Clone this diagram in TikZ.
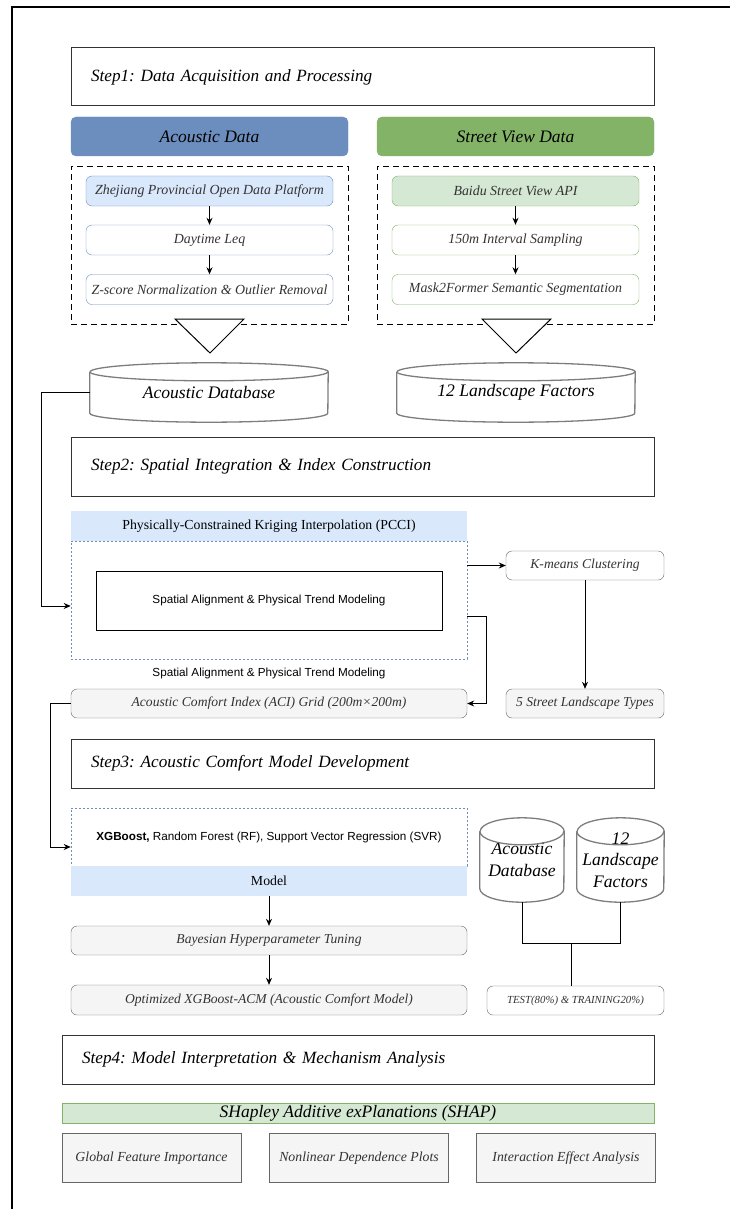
\documentclass[tikz,border=0pt]{standalone}
\usepackage{fontspec}
\setmainfont{Liberation Serif}
\setsansfont{Liberation Sans}
\usetikzlibrary{arrows.meta,calc}
\definecolor{acblue}{HTML}{6C8EBF}
\definecolor{acbluelt}{HTML}{DAE8FC}
\definecolor{svgreen}{HTML}{82B366}
\definecolor{svgreenlt}{HTML}{D5E8D4}
\definecolor{boxgray}{HTML}{F5F5F5}
\definecolor{linegray}{HTML}{666666}
\definecolor{txtgray}{HTML}{333333}
% outline of a database drum round node #1, half width #2, ellipse radius #3
\newcommand{\drumline}[3]{%
  \draw[drum] ([yshift=-#3pt]#1.north west) -- ([yshift=#3pt]#1.south west)
      arc[start angle=180,end angle=360,x radius=#2,y radius=#3]
      -- ([yshift=-#3pt]#1.north east)
      arc[start angle=0,end angle=180,x radius=#2,y radius=#3];
  \draw[drum] ([yshift=-#3pt]#1.north west)
      arc[start angle=180,end angle=360,x radius=#2,y radius=#3];
}
\frenchspacing
\begin{document}
\begin{tikzpicture}[x=1pt,y=1pt,
    stepbox/.style={draw=txtgray,line width=1pt,inner xsep=20pt,text width=543pt,align=left,
        font=\fontsize{17.2}{20}\selectfont\itshape},
    header/.style={rounded corners=5pt,minimum width=277pt,minimum height=39pt,
        font=\fontsize{17.5}{20}\selectfont\itshape},
    group/.style={draw,line width=0.9pt,dash pattern=on 6pt off 4pt,minimum width=277pt,minimum height=158pt},
    item/.style={draw,rounded corners=6pt,minimum width=247pt,minimum height=30pt,text=txtgray,
        font=\fontsize{13.9}{16}\selectfont\itshape},
    dbnode/.style={inner sep=0pt,align=center,font=\fontsize{17.6}{21.5}\selectfont\itshape},
    drum/.style={draw=linegray!85,line width=1.3pt},
    bluebar/.style={fill=acbluelt,minimum width=396pt,minimum height=30pt,font=\fontsize{13.8}{16}\selectfont},
    dotbox/.style={draw=acblue,dash pattern=on 2pt off 2pt,line width=0.6pt,minimum width=396pt},
    greybox/.style={draw=linegray,fill=boxgray,rounded corners=6pt,minimum height=29pt,text=txtgray,
        font=\fontsize{13.6}{16}\selectfont\itshape},
    shapbox/.style={draw=linegray,fill=boxgray,minimum width=179pt,minimum height=49pt,text=txtgray,
        font=\fontsize{13.8}{16}\selectfont\itshape},
    sanstext/.style={font=\sffamily\fontsize{11.7}{14}\selectfont},
    flow/.style={-{Stealth[length=7pt,width=6pt]},line width=0.8pt},
    plain/.style={line width=0.8pt}
]
\useasboundingbox (0,0) rectangle (730,-1209);
% frame
\draw[line width=1.2pt] (12,-1209) -- (12,-7) -- (730,-7);

% Step 1
\node[stepbox,minimum height=58pt] (step1) at (362.5,-77) {Step1: Data Acquisition and Processing};
\node[header,fill=acblue,draw=acblue] (achead) at (209.5,-136.5) {Acoustic Data};
\node[header,fill=svgreen,draw=svgreen] (svhead) at (515.5,-136.5) {Street View Data};
\node[group] (acgroup) at (209.5,-245) {};
\node[group] (svgroup) at (515.5,-245) {};
\foreach \i/\yc/\fillc/\txt in {1/191/acbluelt/Zhejiang Provincial Open Data Platform,
        2/240/white/Daytime Leq, 3/289.5/white/Z-score Normalization \& Outlier Removal} {
    \node[item,draw=acblue,fill=\fillc] (ac\i) at (209.5,-\yc) {\txt};
}
\foreach \i/\yc/\fillc/\txt in {1/191/svgreenlt/Baidu Street View API,
        2/240/white/150m Interval Sampling, 3/289.5/white/Mask2Former Semantic Segmentation} {
    \node[item,draw=svgreen,fill=\fillc] (sv\i) at (515.5,-\yc) {\txt};
}
\foreach \a/\b in {ac1/ac2, ac2/ac3, sv1/sv2, sv2/sv3}
    \draw[flow] (\a) -- (\b);
\draw[line width=1pt,fill=white] (175,-319) -- (244,-319) -- (210,-353) -- cycle;
\draw[line width=1pt,fill=white] (482,-319) -- (551,-319) -- (516,-353) -- cycle;
\node[dbnode,minimum width=238pt,minimum height=59pt] (acdb) at (209,-392.5) {\raisebox{-5pt}{Acoustic Database}};
\node[dbnode,minimum width=238pt,minimum height=59pt] (lfdb) at (516,-392.5) {\raisebox{-5pt}{12 Landscape Factors}};
\drumline{acdb}{119}{9}
\drumline{lfdb}{119}{9}

% Step 2
\node[stepbox,minimum height=59pt] (step2) at (362.5,-466.5) {Step2: Spatial Integration \& Index Construction};
\node[bluebar] (pccihead) at (269,-526) {Physically-Constrained Kriging Interpolation (PCCI)};
\node[dotbox,minimum height=118pt] (pccibox) at (269,-600) {};
\node[draw,line width=0.9pt,minimum width=346pt,minimum height=59pt,sanstext]
    (align) at (269,-600.5) {Spatial Alignment \& Physical Trend Modeling};
\node[sanstext] (alignnote) at (269,-673) {Spatial Alignment \& Physical Trend Modeling};
\node[greybox,minimum width=396pt] (aci) at (269,-703.5) {Acoustic Comfort Index (ACI) Grid (200m×200m)};
\node[greybox,fill=white,minimum width=158pt] (kmeans) at (585,-565.5) {K-means Clustering};
\node[greybox,minimum width=158pt] (types) at (585,-703.5) {5 Street Landscape Types};
\draw[flow] (pccibox.east |- kmeans.west) -- (kmeans.west);
\draw[flow] (kmeans) -- (types);
\draw[flow] ([yshift=-16pt]pccibox.east) -- ++(19,0) |- (aci.east);
\draw[flow] (acdb.west) -- ++(-48,0) |- ([yshift=-6pt]pccibox.west);

% Step 3
\node[stepbox,minimum height=49pt] (step3) at (362.5,-763.5) {Step3: Acoustic Comfort Model Development};
\node[dotbox,minimum height=58pt,sanstext] (models) at (269,-837)
    {\textbf{XGBoost,} Random Forest (RF), Support Vector Regression (SVR)};
\node[bluebar] (modelhead) at (269,-881) {Model};
\node[greybox,minimum width=396pt] (bayes) at (269,-940.5) {Bayesian Hyperparameter Tuning};
\node[greybox,minimum width=396pt,minimum height=30pt] (acm) at (269,-1000) {Optimized XGBoost-ACM (Acoustic Comfort Model)};
\draw[flow] (aci.west) -- ++(-20,0) |- ([yshift=-10pt]models.west);
\draw[flow] (modelhead) -- (bayes);
\draw[flow] (bayes) -- (acm);
\node[dbnode,minimum width=84pt,minimum height=84pt] (cyla) at (522,-860) {Acoustic\\Database};
\node[dbnode,minimum width=87pt,minimum height=84pt] (cylb) at (620.5,-860) {12\\Landscape\\Factors};
\drumline{cyla}{42}{13.5}
\drumline{cylb}{43.5}{13.5}
\node[greybox,fill=white,minimum width=177pt,font=\fontsize{10.8}{13}\selectfont\itshape] (split) at (575.5,-1000.5)
    {TEST(80\%) \& TRAINING20\%)};
\coordinate (join) at ($(cyla.south)!0.5!(cylb.south)+(0,-41)$);
\draw[plain] (cyla.south) |- (join) -| (cylb.south);
\draw[plain] (join) -- (join |- split.north);

% Step 4
\node[stepbox,text width=552pt,minimum height=49pt] (step4) at (358,-1059.5) {Step4: Model Interpretation \& Mechanism Analysis};
\node[draw=svgreen,fill=svgreenlt,minimum width=592pt,minimum height=20pt,inner sep=0pt,
    font=\fontsize{17.5}{19}\selectfont\itshape] (shap) at (358,-1113.5) {SHapley Additive exPlanations (SHAP)};
\foreach \n/\xc/\txt in {1/151.5/Global Feature Importance, 2/359/Nonlinear Dependence Plots,
        3/566/Interaction Effect Analysis}
    \node[shapbox] (shap\n) at (\xc,-1158) {\txt};
\end{tikzpicture}
\end{document}
